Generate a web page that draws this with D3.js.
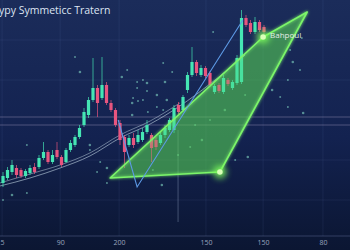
<!DOCTYPE html>
<html>
<head>
<meta charset="utf-8">
<script src="https://cdn.jsdelivr.net/npm/d3@7"></script>
<style>
  html, body { margin: 0; padding: 0; background: #101c40; overflow: hidden; }
  svg { display: block; }
</style>
</head>
<body>
<script>
// candles, price units (index = bar number)
const candleOpen  = [128.5,131,134,136,135,132,133.5,136.5,136.5,141,144,139,145,141.5,139,145,147.5,151.5,157.5,162.5,170,176,171,177.5,168.5,165,158.5,151.5,147.5,151,149,150,154,152.5,150,148.5,152.5,155,155,167.5,165,175,182.5,189,182.5,186,183.5,174,177.5,174,180,176,178.5,179,211,208.5,204,209,206.5];
const candleClose = [132,135,137.5,132.5,132,134.5,136,134,141,144,139,142.5,141.5,137.5,145,148.5,151.5,156,164,170,176,168.5,177.5,168.5,165,157.5,150,144,151,147.5,152.5,154,157.5,146,146.5,152.5,156,160,166,164,171.5,182.5,189,183.5,186,182,177.5,177,174.5,181,178,179,191,211,207.5,204,209,205,204];
const candleHigh  = [134,136.5,140,137.5,136,135.5,137.5,138.5,142.5,149,145,145,149,142.5,146,150,152.5,157.5,166,171.5,191,177.5,191.5,179,170,166,160,152.5,152.5,153.5,155,156,160,153.5,151.5,154,157.5,161,167.5,169,172.5,184,196.5,190,187.5,187,184.5,178,178.5,182.5,181,180,192.5,215,212.5,210,211.5,210,207.5];
const candleLow   = [126.5,130,132.5,131,131,131,132.5,133,135.5,140,138,138,140.5,136.5,138.5,144,146.5,150.5,156.5,161,169,161.5,170,167.5,164,156.5,147.5,136,146.5,146,148,149,153,139,145,147.5,151,154,153.5,163,164,173.5,181.5,182,181.5,181,176.5,173,173.5,173,177,175,177.5,178,206.5,203,203,204,203];

// moving averages
const ma1Idx = [-0.7, 6, 12.7, 19.3, 26, 32.7, 39.3, 46, 53.8];
const ma1Val = [127, 131, 136, 142, 151, 158, 167, 178, 192.5];
const ma2Idx = [-0.7, 6, 12.7, 19.3, 26, 32.7, 39.3];
const ma2Val = [128.5, 133, 137.5, 143.5, 152.5, 159.5, 168.5];

// blue swing line
const swingIdx = [25.6, 29.8, 53.3];
const swingVal = [160, 126.5, 210];

// symmetric pattern area
const patternIdx = [23.8, 57.8, 67.6, 48.2];
const patternVal = [131, 201.5, 214, 134];
const pivotIdx = [57.8, 48.2];
const pivotVal = [201.5, 134];
const pivotLabel = "Bahpoul";

// horizontal levels and marker
const levels = [161.5, 157.5];
const markerIdx = 38.9, markerFrom = 155, markerTo = 109;

// scattered particles
const dotIdx = [17.1,16,27.6,26.4,29.8,31.1,32,35.6,37.6,36,29.8,32,34.2,31.1,28.9,28.7,30,34.2,36.4,32.2,35.6,28.7,66.4,63.8,64.4,66,63.3,59.8,61.6,63.3,66.7,53.8,5.3,19.3,19.3,21.6,23.1,20.9,23.1,2,5.3,0,35.3,33.3,51.6,54.4,38.9,41.6,44.2,46.7,42.7,49.3,46];
const dotVal = [184,191.5,185,181.5,179,180,178.5,188.5,184,179,176,174.5,172.5,170,171,168.5,169.5,166.5,170,164,165,162.5,201,195,189,185,180,175,171.5,166.5,163.5,172.5,147.5,147.5,145,139,136,134,128.5,122.5,123.5,120,127.5,135,140,141.5,142.5,146.5,150,204,157.5,165,160];

// axis
const tickIdx = [-0.2, 12.7, 25.8, 45.1, 57.8, 71.1];
const tickLabels = ["5", "90", "200", "150", "150", "80"];
const title = "ypy Symmeticc Tratern";

const width = 350, height = 250;
const x = d3.scaleLinear().domain([0, 58]).range([3, 264]);
const y = d3.scaleLinear().domain([100, 220]).range([240, 0]);

const svg = d3.select("body").append("svg")
    .attr("width", width)
    .attr("height", height);

const defs = svg.append("defs");
const bg = defs.append("linearGradient").attr("id", "bg")
    .attr("x1", 0).attr("y1", 0).attr("x2", 0).attr("y2", 1);
bg.append("stop").attr("offset", "0%").attr("stop-color", "#1b2c5a");
bg.append("stop").attr("offset", "55%").attr("stop-color", "#132250");
bg.append("stop").attr("offset", "100%").attr("stop-color", "#0b1632");

const glow = defs.append("filter").attr("id", "glow")
    .attr("x", "-50%").attr("y", "-50%").attr("width", "200%").attr("height", "200%");
glow.append("feGaussianBlur").attr("stdDeviation", 1.6).attr("result", "b");
const gm = glow.append("feMerge");
gm.append("feMergeNode").attr("in", "b");
gm.append("feMergeNode").attr("in", "SourceGraphic");

const bigGlow = defs.append("filter").attr("id", "bigGlow")
    .attr("x", "-200%").attr("y", "-200%").attr("width", "500%").attr("height", "500%");
bigGlow.append("feGaussianBlur").attr("stdDeviation", 3);

svg.append("rect").attr("width", width).attr("height", height).attr("fill", "url(#bg)");

// faint grid
const grid = svg.append("g").attr("stroke", "rgba(120,150,210,0.10)").attr("stroke-width", 1);
grid.selectAll("line.v").data(tickIdx).join("line")
    .attr("x1", d => x(d)).attr("x2", d => x(d))
    .attr("y1", 0).attr("y2", y(102));
grid.selectAll("line.h").data([200, 180, 140, 120]).join("line")
    .attr("x1", 0).attr("x2", width)
    .attr("y1", d => y(d)).attr("y2", d => y(d));

// level lines
svg.append("g").selectAll("line").data(levels).join("line")
    .attr("x1", 0).attr("x2", width)
    .attr("y1", d => y(d)).attr("y2", d => y(d))
    .attr("stroke", "rgba(205,190,220,0.32)")
    .attr("stroke-width", 1);

// marker
svg.append("line")
    .attr("x1", x(markerIdx)).attr("x2", x(markerIdx))
    .attr("y1", y(markerFrom)).attr("y2", y(markerTo))
    .attr("stroke", "rgba(170,185,215,0.35)").attr("stroke-width", 1);

// particles
svg.append("g").selectAll("circle").data(dotIdx).join("circle")
    .attr("cx", d => x(d))
    .attr("cy", (d, i) => y(dotVal[i]))
    .attr("r", (d, i) => i % 3 === 0 ? 1.3 : 1)
    .attr("fill", "rgba(140,230,205,0.55)");

// pattern area (fill, then glowing edge)
const patternPts = patternIdx.map((d, i) => [x(d), y(patternVal[i])]).map(p => p.join(",")).join(" ");
svg.append("polygon")
    .attr("points", patternPts)
    .attr("fill", "rgba(85,205,85,0.48)");

// moving averages
const line = d3.line().curve(d3.curveMonotoneX);
svg.append("path")
    .attr("d", line(ma1Idx.map((d, i) => [x(d), y(ma1Val[i])])))
    .attr("fill", "none").attr("stroke", "rgba(210,230,240,0.55)").attr("stroke-width", 1);
svg.append("path")
    .attr("d", line(ma2Idx.map((d, i) => [x(d), y(ma2Val[i])])))
    .attr("fill", "none").attr("stroke", "rgba(210,230,240,0.45)").attr("stroke-width", 1);

// candles
const candles = svg.append("g");
const up = "#45e6b4", down = "#e8557f";
candleOpen.forEach((o, i) => {
    const c = candleClose[i];
    const col = c >= o ? up : down;
    candles.append("line")
        .attr("x1", x(i)).attr("x2", x(i))
        .attr("y1", y(candleHigh[i])).attr("y2", y(candleLow[i]))
        .attr("stroke", col).attr("stroke-width", 0.8).attr("opacity", 0.85);
    candles.append("rect")
        .attr("x", x(i) - 1.6)
        .attr("width", 3.2)
        .attr("y", y(Math.max(o, c)))
        .attr("height", Math.max(1, Math.abs(y(o) - y(c))))
        .attr("fill", col);
});

svg.append("polygon")
    .attr("points", patternPts)
    .attr("fill", "rgba(85,205,85,0.12)")
    .attr("stroke", "#7cf56a")
    .attr("stroke-width", 1.6)
    .attr("stroke-linejoin", "round")
    .attr("filter", "url(#glow)");

// swing line
svg.append("path")
    .attr("d", d3.line()(swingIdx.map((d, i) => [x(d), y(swingVal[i])])))
    .attr("fill", "none").attr("stroke", "#5d9ae6").attr("stroke-width", 1.1);

// pivots
const piv = svg.append("g");
pivotIdx.forEach((d, i) => {
    piv.append("circle").attr("cx", x(d)).attr("cy", y(pivotVal[i])).attr("r", 6.5)
        .attr("fill", "#7dff5a").attr("opacity", 0.85).attr("filter", "url(#bigGlow)");
    piv.append("circle").attr("cx", x(d)).attr("cy", y(pivotVal[i])).attr("r", 2.8)
        .attr("fill", "#d9ffb8");
});
svg.append("text")
    .attr("x", x(pivotIdx[0]) + 7).attr("y", y(pivotVal[0]) + 1)
    .attr("fill", "#e4ece6")
    .attr("font-family", "'Open Sans', sans-serif")
    .attr("font-size", 8)
    .text(pivotLabel);

// x axis
svg.append("line").attr("x1", 0).attr("x2", width)
    .attr("y1", y(102)).attr("y2", y(102))
    .attr("stroke", "rgba(150,170,215,0.28)");
const axis = svg.append("g")
    .attr("transform", `translate(0,${y(102)})`)
    .call(d3.axisBottom(x).tickValues(tickIdx).tickSize(0).tickPadding(4)
        .tickFormat((d, i) => tickLabels[i]));
axis.select(".domain").remove();
axis.selectAll("text")
    .attr("fill", "#9aa6bd")
    .attr("font-family", "'Open Sans', sans-serif")
    .attr("font-size", 7);

// title
svg.append("text")
    .attr("x", -1).attr("y", 14)
    .attr("fill", "#dde5f2")
    .attr("font-family", "'Open Sans', sans-serif")
    .attr("font-size", 10.5)
    .text(title);
</script>
</body>
</html>
